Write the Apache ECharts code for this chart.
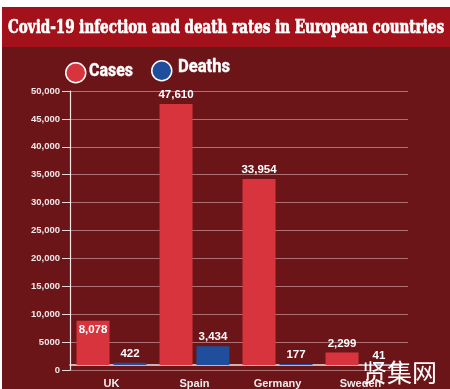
<!DOCTYPE html>
<html>
<head>
<meta charset="utf-8">
<script src="https://cdn.jsdelivr.net/npm/echarts@6/dist/echarts.min.js"></script>
<style>
html,body{margin:0;padding:0;background:#ffffff;}
#c{width:450px;height:389px;}
</style>
</head>
<body>
<div id="c"></div>
<script>
const titleText = 'Covid-19 infection and death rates in European countries';
const categories = ['UK', 'Spain', 'Germany', 'Sweden'];
const cases = [8078, 47610, 33954, 2299];
const deaths = [422, 3434, 177, 41];
const seriesNames = ['Cases', 'Deaths'];
const yMin = 0, yMax = 50000, yStep = 5000;
const watermark = '贤集网';

const SANS = '"Liberation Sans", Arial, sans-serif';
const TITLE_FONT = 'bold 19px "DejaVu Serif Condensed", "DejaVu Serif", serif';
const LEG_FONT = 'bold 18px Roboto, "Liberation Sans", sans-serif';

const ctx = document.createElement('canvas').getContext('2d');
function measure(text, font) { ctx.font = font; return ctx.measureText(text).width; }
function fittedText(text, font, x, y, width, strokeW) {
  const s = width / measure(text, font);
  const style = {text: text, fill: '#ffffff', font: font, verticalAlign: 'middle', align: 'left'};
  if (strokeW) { style.stroke = '#ffffff'; style.lineWidth = strokeW; }
  return {type: 'text', z: 10, x: x, y: y, scaleX: s, style: style};
}

function fmtTick(v) {
  return v >= 10000 ? v.toLocaleString('en-US') : String(v);
}
function fmtVal(p) { return Number(p.value).toLocaleString('en-US'); }

const caseData = cases.map((v, i) => i === 0
  ? {value: v, label: {position: 'insideTop', distance: 3}}
  : v);

const legendBase = {icon: 'circle', itemWidth: 20, itemHeight: 20, padding: 0,
  formatter: () => '', selectedMode: false,
  itemStyle: {borderColor: '#ffffff', borderWidth: 1.5}};

const chart = echarts.init(document.getElementById('c'), null, {renderer: 'canvas'});
chart.setOption({
  animation: false,
  backgroundColor: 'transparent',
  graphic: [
    {type: 'rect', z: -10, shape: {x: 2, y: 7, width: 448, height: 382}, style: {fill: '#6c1519'}},
    {type: 'rect', z: -9, shape: {x: 2, y: 7, width: 448, height: 40}, style: {fill: '#a3121b'}},
    fittedText(titleText, TITLE_FONT, 8, 28, 436, 0.7),
    fittedText(seriesNames[0], LEG_FONT, 89, 71, 44, 0.4),
    fittedText(seriesNames[1], LEG_FONT, 178, 67, 52, 0.4),
    {type: 'text', z: 20, x: 362, y: 372, style: {text: watermark, fill: '#ffffff', font: '25px "Noto Sans CJK SC"', verticalAlign: 'middle'}}
  ],
  legend: [
    Object.assign({data: [seriesNames[0]], left: 65, top: 62}, legendBase),
    Object.assign({data: [seriesNames[1]], left: 151, top: 60}, legendBase)
  ],
  grid: [
    {left: 70, right: 42, top: 91, bottom: 19},
    {left: 70, right: 48, top: 91, bottom: 19}
  ],
  xAxis: [
    {type: 'category', gridIndex: 0, data: categories, show: false},
    {type: 'category', gridIndex: 1, data: categories,
      axisLine: {show: true, lineStyle: {color: '#f2e6e6', width: 1.5}},
      axisTick: {show: false},
      axisLabel: {color: '#eeeeee', fontFamily: SANS, fontWeight: 'bold', fontSize: 11, margin: 13}}
  ],
  yAxis: [
    {type: 'value', gridIndex: 0, min: yMin, max: yMax, interval: yStep,
      axisLine: {show: true, lineStyle: {color: '#f2e6e6', width: 1.2}},
      axisTick: {show: true, length: 8, lineStyle: {color: '#e8d8d8'}},
      axisLabel: {color: '#f0e8e8', fontFamily: SANS, fontWeight: 'bold', fontSize: 9.5, margin: 10, formatter: fmtTick},
      splitLine: {show: true, lineStyle: {color: 'rgba(255,225,225,0.45)', width: 1}}},
    {type: 'value', gridIndex: 1, min: yMin, max: yMax, interval: yStep, show: false, splitLine: {show: false}}
  ],
  series: [
    {name: seriesNames[0], type: 'bar', xAxisIndex: 1, yAxisIndex: 1, data: caseData,
      barWidth: 33, barGap: '12%',
      itemStyle: {color: '#d8343d'},
      label: {show: true, position: 'top', distance: 3, color: '#ffffff', fontFamily: SANS, fontWeight: 'bold', fontSize: 11.5, formatter: fmtVal}},
    {name: seriesNames[1], type: 'bar', xAxisIndex: 1, yAxisIndex: 1, data: deaths,
      barWidth: 33,
      itemStyle: {color: '#1f4e9c'},
      label: {show: true, position: 'top', distance: 3, color: '#ffffff', fontFamily: SANS, fontWeight: 'bold', fontSize: 11.5, formatter: fmtVal}}
  ]
});
</script>
</body>
</html>
